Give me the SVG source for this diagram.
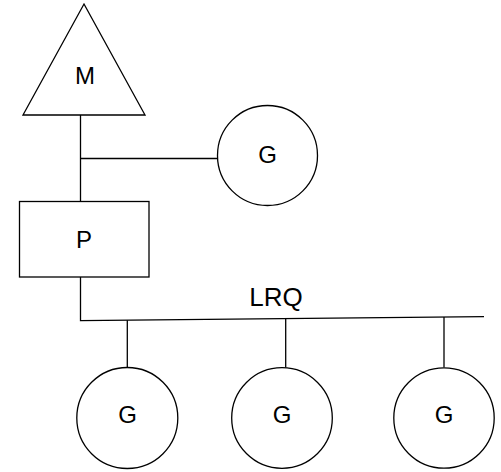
<svg xmlns="http://www.w3.org/2000/svg" width="501" height="472" viewBox="0 0 501 472">
<style>
.s{fill:#fff;stroke:#000;stroke-width:1.3}
.c{fill:none;stroke:#000;stroke-width:1.3}
.t{font-family:"Liberation Sans",Arial,sans-serif;font-size:24px;fill:#000;text-anchor:middle}
</style>
<rect width="501" height="472" fill="#fff"/>
<g id="connectors">
<line class="c" x1="80.5" y1="115" x2="80.5" y2="202"/>
<line class="c" x1="80.5" y1="158.5" x2="218" y2="158.5"/>
<polyline class="c" points="80.5,277 80.5,320.7 484,316.7"/>
<line class="c" x1="127.3" y1="320.2" x2="127.3" y2="367.5"/>
<line class="c" x1="285.7" y1="318.7" x2="285.7" y2="367.5"/>
<line class="c" x1="444" y1="317" x2="444" y2="367.5"/>
</g>
<g id="M">
<polygon class="s" points="84,4 145,115 23,115"/>
<text class="t" x="85" y="84">M</text>
</g>
<g id="G0">
<circle class="s" cx="267.5" cy="155.5" r="50"/>
<text class="t" x="267.5" y="163">G</text>
</g>
<g id="P">
<rect class="s" x="19.5" y="201.5" width="129.5" height="75.5"/>
<text class="t" x="84" y="248">P</text>
</g>
<g id="LRQ">
<text class="t" x="276" y="306" style="font-size:26px">LRQ</text>
</g>
<g id="G1">
<circle class="s" cx="127.3" cy="418" r="50.5"/>
<text class="t" x="127.5" y="423">G</text>
</g>
<g id="G2">
<circle class="s" cx="282" cy="418" r="50.3"/>
<text class="t" x="282" y="423">G</text>
</g>
<g id="G3">
<circle class="s" cx="444" cy="418" r="50.2"/>
<text class="t" x="444" y="423">G</text>
</g>
</svg>
